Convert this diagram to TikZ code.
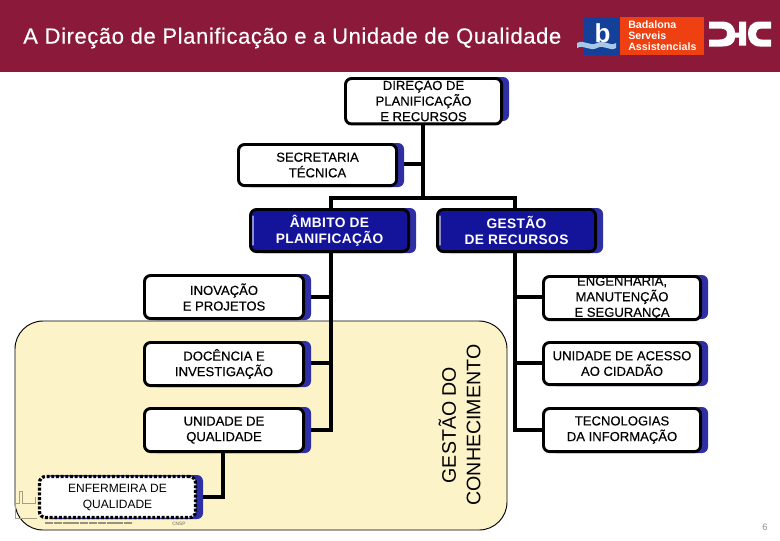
\documentclass[tikz,border=0pt]{standalone}
\usepackage{fontspec}
\setmainfont{Liberation Sans}
\definecolor{hdr}{HTML}{8B1A3A}
\definecolor{shade}{HTML}{2F2FA5}
\definecolor{navy}{HTML}{14149B}
\definecolor{panel}{HTML}{FDF3C8}
\definecolor{lgblue}{HTML}{14409A}
\definecolor{lgorange}{HTML}{EE4010}
\definecolor{lgwave}{HTML}{A8C8E8}
\tikzset{
 x=0.75pt,y=-0.75pt,
 boxbase/.style={rounded corners=4.5pt,line width=2.2pt,draw=black,align=center,inner sep=0pt,outer sep=0pt,anchor=north west},
 whitebox/.style={boxbase,fill=white,text=black,font=\fontsize{9.8}{11.7}\selectfont\addfontfeature{FakeBold=0.35}},
 bluebox/.style={boxbase,fill=navy,text=white,font=\fontsize{10.3}{11.8}\selectfont\bfseries\addfontfeature{LetterSpace=2.5}},
 dotbox/.style={boxbase,fill=white,text=black,dash pattern=on 2.2pt off 1.3pt,line width=2.4pt,font=\fontsize{9}{12}\selectfont},
 shadebox/.style={fill=shade,rounded corners=4.5pt},
 thickconn/.style={line width=2.7pt,draw=black},
 bevel/.style={line width=1.1pt,draw=shade!55!white,line cap=round},
}
\newcommand{\orgbox}[7]{% name,style,x0,y0,x1,y1,text
 \fill[shadebox] (#3+8,#4) rectangle (#5+6,#6);
 \node[#2,minimum width=#5*0.75pt-#3*0.75pt-2.2pt,minimum height=#6*0.75pt-#4*0.75pt-2.2pt] (#1) at (#3+1.5,#4+1.5) {#7};
}
\begin{document}
\begin{tikzpicture}
\useasboundingbox (0,0) rectangle (780,540);
\fill[white] (0,0) rectangle (780,540);
\fill[hdr] (0,0) rectangle (780,72);
\node[text=white,anchor=west,inner sep=0pt,font=\fontsize{16.5}{18}\selectfont\addfontfeature{LetterSpace=2.7,FakeBold=0.4}] (title) at (23,38) {A Direção de Planificação e a Unidade de Qualidade};
% logo
\fill[lgblue] (584,17) rectangle (620,55);
\fill[lgorange] (620,17) rectangle (704,55);
\fill[lgwave] (577,43) .. controls (584,39) and (590,47) .. (597,43) .. controls (604,39) and (610,47) .. (616,43) -- (616,48) .. controls (610,52) and (604,44) .. (597,48) .. controls (590,52) and (584,44) .. (577,48) -- cycle;
\node[text=white,inner sep=0pt,font=\fontsize{19.5}{20}\selectfont\bfseries] (lb) at (602.5,33.5) {b};
\node[text=white,anchor=west,align=left,inner sep=0pt,font=\fontsize{8}{8.2}\selectfont\bfseries] (lt) at (628,36) {Badalona\\Serveis\\Assistencials};
\begin{scope}[yshift=1.1pt]
\fill[white] (709,23) -- (722,23) .. controls (732,23) and (735,30) .. (735,34) -- (739,34) -- (739,23) -- (746,23) -- (746,47) -- (739,47) -- (739,39) -- (735,39) .. controls (735,43) and (732,48) .. (722,48) -- (709,48) -- (709,41) -- (719,41) .. controls (726,41) and (727,38) .. (727,35) .. controls (727,32) and (726,30) .. (719,30) -- (709,30) -- cycle;
\fill[white] (771,23) -- (760,23) .. controls (750,23) and (748,30) .. (748,35) .. controls (748,42) and (752,48) .. (760,48) -- (771,48) -- (771,41) -- (762,41) .. controls (758,41) and (756,39) .. (756,35) .. controls (756,32) and (758,30) .. (762,30) -- (771,30) -- cycle;
\end{scope}
% panel
\draw[fill=panel,draw=black,line width=0.7pt,rounded corners=21pt] (15,321) rectangle (507,530);
% building sketch
\draw[draw=black!35!panel,line width=0.6pt] (15,518) -- (37,518) (15,518) -- (15,490) (15,503) -- (19,503) -- (19,491) -- (22,491) -- (22,503) -- (35,503) -- (35,497);
\draw[draw=black!40!panel,line width=0.9pt,dash pattern=on 6pt off 0.6pt] (45,523) -- (133,523);
\node[text=black!60,inner sep=0pt,anchor=west,font=\fontsize{3.6}{4}\selectfont] (cnsp) at (172,524) {CNSP};
% connectors
\coordinate (topjoin) at (423,198);
\coordinate (secjoin) at (423,164);
\coordinate (leftj) at (331,198);
\coordinate (rightj) at (515,198);
\coordinate (lj1) at (331,297);
\coordinate (lj2) at (331,363);
\coordinate (lj3) at (331,430);
\coordinate (rj1) at (515,297);
\coordinate (rj2) at (515,363);
\coordinate (rj3) at (515,430);
\coordinate (ql) at (223,453);
\coordinate (qc) at (223,497);
\coordinate (eq) at (200,497);
\coordinate (dir) at (423,121);
\coordinate (secr) at (400,164);
\coordinate (amb) at (331,208);
\coordinate (ges) at (515,208);
\coordinate (ambb) at (331,253);
\coordinate (gesb) at (515,253);
\coordinate (l1) at (306,297);
\coordinate (l2) at (306,363);
\coordinate (l3) at (306,430);
\coordinate (r1) at (542,297);
\coordinate (r2) at (542,363);
\coordinate (r3) at (542,430);
\draw[thickconn] (dir) -- (topjoin);
\draw[thickconn] (secr) -- (secjoin);
\draw[thickconn] (amb) |- (rightj) -- (ges);
\draw[thickconn] (ambb) -- (lj3) -- (l3);
\draw[thickconn] (lj1) -- (l1);
\draw[thickconn] (lj2) -- (l2);
\draw[thickconn] (gesb) -- (rj3) -- (r3);
\draw[thickconn] (rj1) -- (r1);
\draw[thickconn] (rj2) -- (r2);
\draw[thickconn] (ql) -- (qc) -- (eq);
% boxes
\orgbox{direcao}{whitebox}{344}{77}{503}{121}{DIREÇÃO DE\\PLANIFICAÇÃO\\E RECURSOS\vphantom{Ç}}
\orgbox{secretaria}{whitebox}{237}{143}{398}{187}{SECRETARIA\\TÉCNICA}
\orgbox{ambito}{bluebox}{249}{208}{410}{253}{ÂMBITO DE\\PLANIFICAÇÃO}
\orgbox{gestao}{bluebox}{436}{208}{597}{253}{GESTÃO\\DE RECURSOS}
\orgbox{inovacao}{whitebox}{143}{274}{305}{320}{INOVAÇÃO\\E  PROJETOS}
\orgbox{docencia}{whitebox}{143}{341}{305}{387}{DOCÊNCIA E\\INVESTIGAÇÃO}
\orgbox{qualidade}{whitebox}{143}{407}{305}{453}{UNIDADE DE\\QUALIDADE}
\orgbox{enfermeira}{dotbox}{38}{475}{197}{519}{ENFERMEIRA DE\\QUALIDADE}
\orgbox{engenharia}{whitebox}{542}{275}{702}{319}{ENGENHARIA,\\MANUTENÇÃO\\E SEGURANÇA}
\orgbox{acesso}{whitebox}{542}{341}{702}{386}{UNIDADE DE ACESSO\\AO CIDADÃO}
\orgbox{tecno}{whitebox}{542}{407}{702}{453}{TECNOLOGIAS\\DA INFORMAÇÃO}
\draw[bevel] ([xshift=2pt,yshift=-5pt]ambito.north west) -- ([xshift=2pt,yshift=5pt]ambito.south west);
\draw[bevel] ([xshift=2pt,yshift=-5pt]gestao.north west) -- ([xshift=2pt,yshift=5pt]gestao.south west);
\node[rotate=90,align=center,inner sep=0pt,font=\fontsize{14.7}{18.4}\selectfont] (gc) at (459.5,425) {GESTÃO DO\\CONHECIMENTO};
\node[text=black!45,inner sep=0pt,font=\fontsize{7}{8}\selectfont] (pg) at (765,527) {6};
\end{tikzpicture}
\end{document}
